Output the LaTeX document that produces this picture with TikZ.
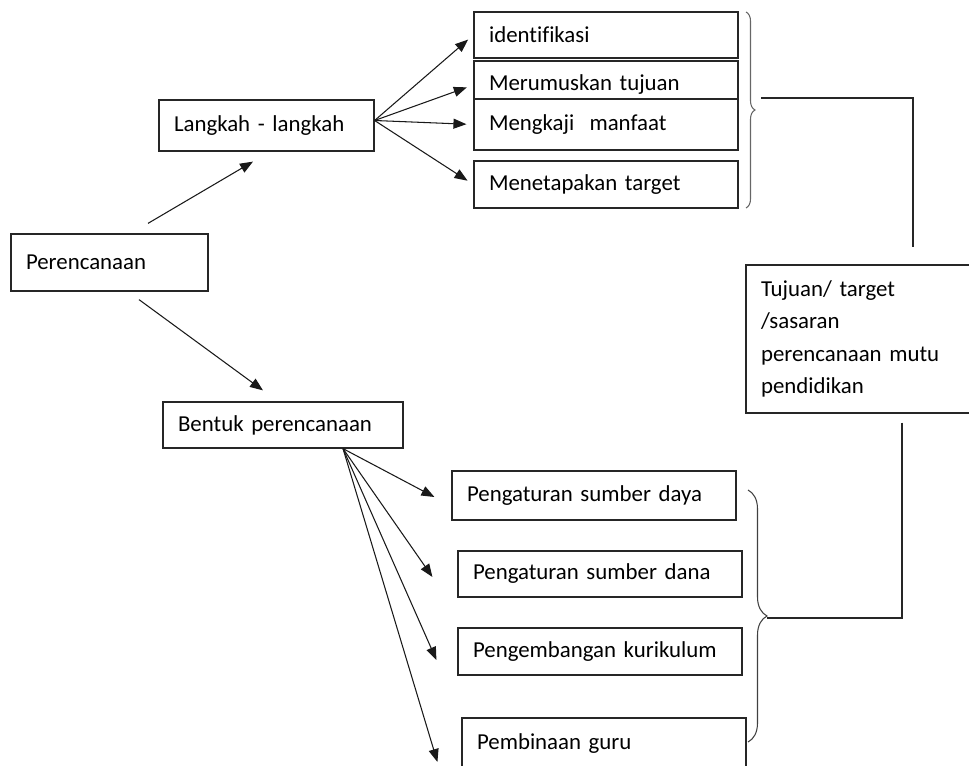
\documentclass[tikz,border=0pt]{standalone}
\usepackage{fontspec}
\setmainfont{Carlito}[Ligatures=NoCommon]
\usepackage{tikz}
\usetikzlibrary{arrows.meta, decorations.pathreplacing}

\begin{document}
\begin{tikzpicture}[x=0.02cm, y=-0.02cm,
    every node/.style={font=\fontsize{13}{18.5}\selectfont},
    box/.style={draw=black!85, line width=0.7pt, fill=white, inner xsep=0.3cm, inner ysep=0pt, align=left},
    arr/.style={-{Triangle[length=0.26cm, width=0.2cm]}, line width=0.6pt, black!90},
    link/.style={line width=0.7pt, black!85},
    brc/.style={decorate, line width=0.6pt, black!60}]
      \clip (0,0) rectangle (969,766);

      % Perencanaan dan dua cabangnya
      \node[box, minimum width=3.94cm, text width=3.34cm, minimum height=1.14cm] (plan) at (109.5,262.5) {Perencanaan};
      \node[box, minimum width=4.3cm, text width=3.7cm, minimum height=1.02cm] (steps) at (266.5,125.5) {Langkah - langkah};
      \node[box, minimum width=4.8cm, text width=4.2cm, minimum height=0.92cm] (forms) at (283,425) {Bentuk perencanaan};
      \draw[arr] ([xshift=0.77cm, yshift=0.2cm]plan.north) -- ([xshift=-0.27cm, yshift=-0.2cm]steps.south);
      \draw[arr] ([xshift=0.59cm, yshift=-0.16cm]plan.south) -- ([xshift=-0.4cm, yshift=0.22cm]forms.north);

      % Langkah - langkah
      \node[box, minimum width=5.28cm, text width=4.68cm, minimum height=0.92cm] (ident) at (606,35) {identifikasi};
      \node[box, minimum width=5.28cm, text width=4.68cm, minimum height=0.96cm] (aims) at (606,85) {Merumuskan tujuan};
      \node[box, minimum width=5.28cm, text width=4.68cm, minimum height=1.02cm] (gain) at (606,124.5) {Mengkaji\ \ manfaat};
      \node[box, minimum width=5.28cm, text width=4.68cm, minimum height=0.94cm] (target) at (606,184.5) {Menetapakan target};
      \foreach \n in {ident, aims, gain, target}
        \draw[arr, shorten >=0.14cm] ([yshift=0.1cm]steps.east) -- (\n.west);

      % Bentuk perencanaan
      \node[box, minimum width=5.68cm, text width=5.08cm, minimum height=0.98cm] (staff) at (594,495.5) {Pengaturan sumber daya};
      \node[box, minimum width=5.68cm, text width=5.08cm, minimum height=0.92cm] (fund) at (600,574) {Pengaturan sumber dana};
      \node[box, minimum width=5.68cm, text width=5.08cm, minimum height=0.94cm] (curr) at (600,651.5) {Pengembangan kurikulum};
      \node[box, minimum width=5.68cm, text width=5.08cm, minimum height=1.04cm] (teach) at (604,744) {Pembinaan guru};
      \coordinate (fan) at ([xshift=1.2cm]forms.south);
      \draw[arr] (fan) -- ([xshift=-0.34cm, yshift=-0.03cm]staff.west);
      \draw[arr] (fan) -- ([xshift=-0.5cm, yshift=-0.06cm]fund.west);
      \draw[arr] (fan) -- ([xshift=-0.42cm, yshift=-0.17cm]curr.west);
      \draw[arr] (fan) -- ([xshift=-0.48cm, yshift=-0.36cm]teach.west);

      % Tujuan
      \node[box, minimum width=4.78cm, text width=4.18cm, minimum height=2.96cm] (goal) at (865.5,339) {Tujuan/ target\\/sasaran\\perencanaan mutu\\pendidikan};
      \draw[brc, decoration={brace, amplitude=0.18cm}] (746,12) -- (746,208);
      \draw[brc, black!75, decoration={brace, amplitude=0.38cm}] (748,490) -- (748,742);
      \coordinate (topTip) at (761,98);
      \coordinate (botTip) at (767,618);
      \draw[link] (topTip) -| ([xshift=0.95cm, yshift=0.34cm]goal.north);
      \draw[link] ([xshift=0.73cm, yshift=-0.18cm]goal.south) |- (botTip);
    \end{tikzpicture}
\end{document}
